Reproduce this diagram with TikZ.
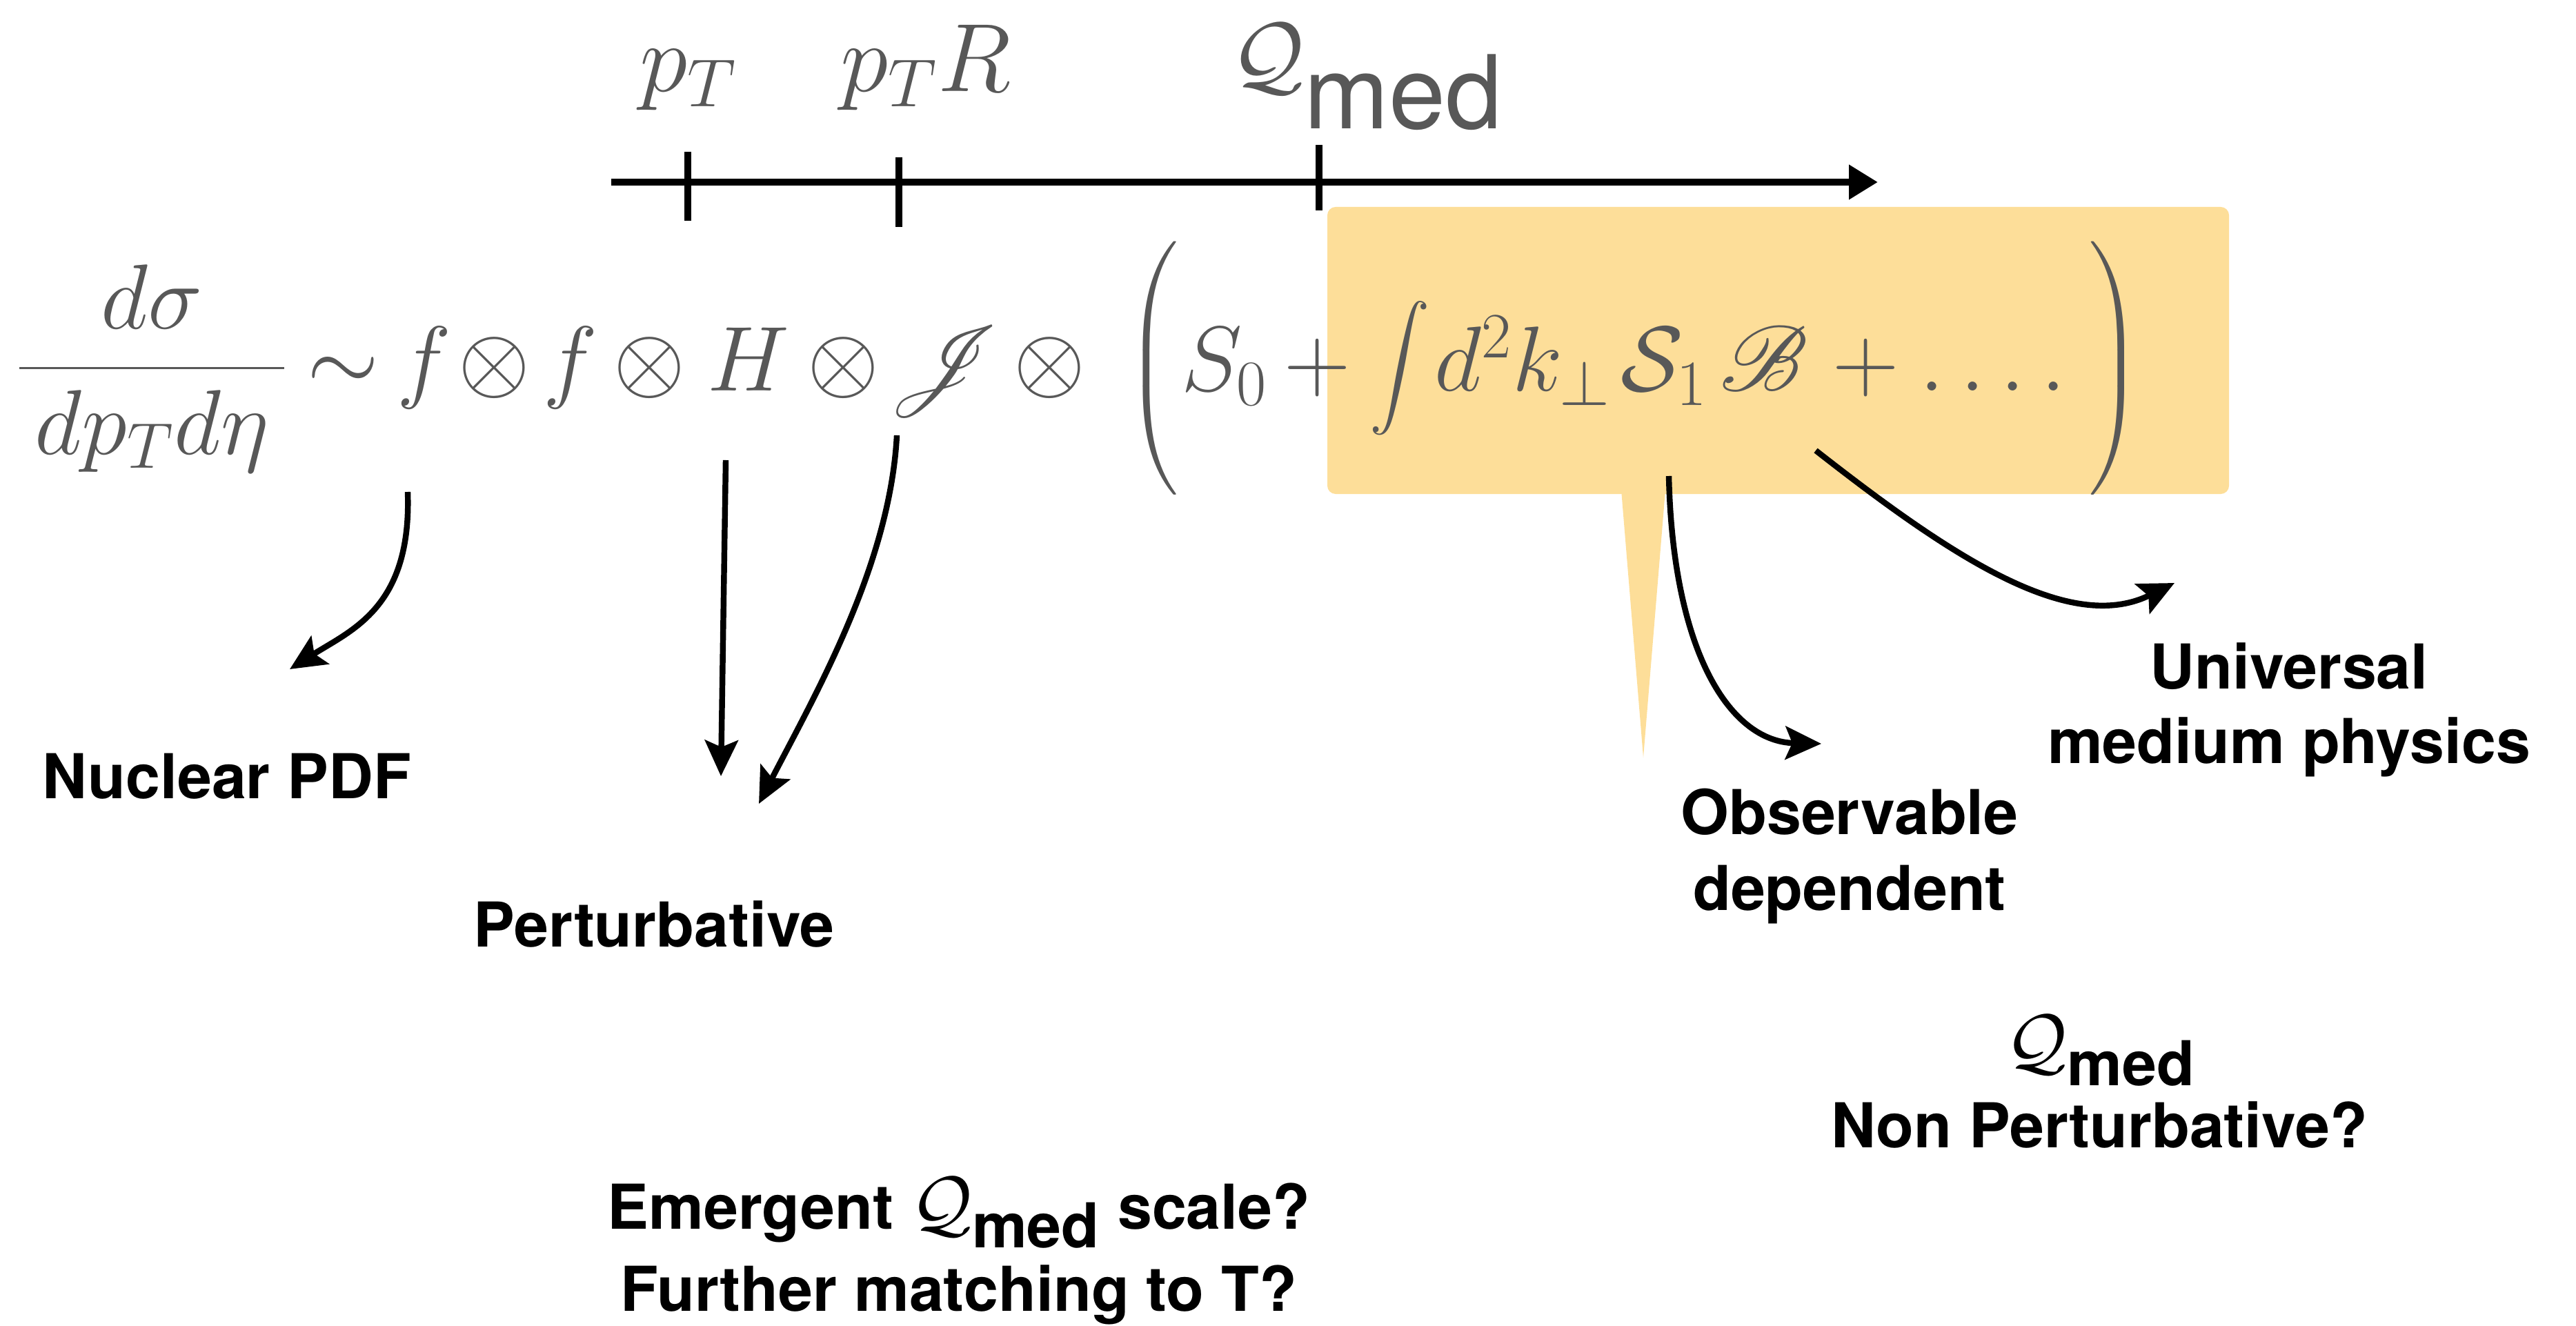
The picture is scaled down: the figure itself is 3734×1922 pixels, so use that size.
\documentclass[tikz,border=0pt]{standalone}
\usepackage{fix-cm}
\usepackage{amsmath}
\usepackage{mathrsfs}
\DeclareFontFamily{U}{rsfs}{\skewchar\font127}
\DeclareFontShape{U}{rsfs}{m}{n}{<-6>rsfs5<6-8>rsfs7<8->rsfs10}{}
\usepackage{fontspec}
\setsansfont{TeX Gyre Heros}
\usepackage{xcolor}
\usepackage{tikz}
\usetikzlibrary{arrows.meta,positioning}

\definecolor{eqgray}{RGB}{88,88,88}
\definecolor{medbox}{RGB}{253,222,153}

% Q_med with the "med" set at text size
\newcommand{\Qmedsym}[2]{{\fontsize{#1}{#1}\selectfont$\mathcal{Q}_{\mbox{\fontsize{#2}{#2}\selectfont med}}$}}

\begin{document}
\begin{tikzpicture}[x=0.01cm, y=-0.01cm,
  eq/.style={text=eqgray, inner sep=0pt, anchor=base,
    font=\fontsize{38}{40}\selectfont},
  scalelbl/.style={text=eqgray, inner sep=0pt, anchor=base,
    font=\fontsize{40}{42}\selectfont\sffamily},
  note/.style={inner sep=0pt, anchor=base,
    font=\fontsize{25.5}{27}\selectfont\sffamily\bfseries},
  axisline/.style={line width=3pt, -{Triangle[length=4.2mm,width=4.8mm]}},
  tickmark/.style={line width=2.8pt},
  flow/.style={line width=2.4pt, -{Stealth[length=5.2mm,width=4.8mm,inset=1mm]}}
]
\useasboundingbox (0,0) rectangle (3734,1922);

% highlighted medium part
\fill[medbox, rounded corners=3.4pt] (1924,300) rectangle (3231,716);
\fill[medbox] (2350,710) -- (2414,710) -- (2382,1098) -- cycle;

% scale axis
\coordinate (axisL) at (886,264);
\coordinate (axisR) at (2722,264);
\draw[axisline] (axisL) -- (axisR);
\draw[tickmark] (997,220) -- (997,320);
\draw[tickmark] (1303,228) -- (1303,329);
\draw[tickmark] (1912,210) -- (1912,305);

\node[scalelbl] (ptlbl) at (998,133) {$p_T$};
\node[scalelbl] (ptrlbl) at (1342,133) {$p_TR$};
\node[scalelbl] (qmedlbl) at (1982,124) {\Qmedsym{37}{42}};

% factorization formula
\node[eq] (frac) at (220,567) {$\displaystyle\frac{d\sigma}{\,dp_T d\eta\,}$};
\node[eq] (sim) at (497,567) {$\sim$};
\node[eq] (f1) at (615,567) {$f$};
\node[eq] (ot1) at (716,567) {$\otimes$};
\node[eq] (f2) at (827,567) {$f$};
\node[eq] (ot2) at (941,567) {$\otimes$};
\node[eq] (H) at (1085,567) {$H$};
\node[eq] (ot3) at (1222,567) {$\otimes$};
\node[eq] (J) at (1370,567) {$\mathscr{J}$};
\node[eq] (ot4) at (1521,567) {$\otimes$};
\node[eq] (lpar) at (1672,567) {$\left(\rule[-1.41cm]{0pt}{3.48cm}\right.$};
\node[eq] (S0) at (1775,567) {$S_0$};
\node[eq] (plus1) at (1910,567) {$+$};
\node[eq] (int) at (2029,567) {$\displaystyle\int$};
\node[eq] (dk) at (2207,567) {$d^2k_\perp$};
\node[eq] (S1) at (2412,567) {$\mathcal{S}_1$};
\node[eq] (B) at (2557,567) {$\mathscr{B}$};
\node[eq] (plus2) at (2705,567) {$+$};
\node[eq] (dots) at (2889,567) {$.\,.\,.\,.$};
\node[eq] (rpar) at (3065,567) {$\left.\rule[-1.41cm]{0pt}{3.48cm}\right)$};

% labels
\node[note] (nuc) at (329,1157) {Nuclear PDF};
\node[note] (pert) at (948,1372) {Perturbative};
\node[note] (emerg) at (1390,1781) {Emergent \Qmedsym{31}{25.5} scale?};
\node[note] (match) at (1390,1900) {Further matching to T?};
\node[note] (univ) at (3318,998) {Universal};
\node[note] (medphys) at (3318,1106) {medium physics};
\node[note] (obs) at (2681,1209) {Observable};
\node[note] (dep) at (2681,1319) {dependent};
\node[note] (qmednp) at (3045,1546) {\Qmedsym{31}{25.5}};
\node[note] (nonpert) at (3043,1663) {Non Perturbative?};

\coordinate (nucTip) at (420,970);
\coordinate (pertTipA) at (1045,1125);
\coordinate (pertTipB) at (1100,1165);
\coordinate (obsTip) at (2640,1078);
\coordinate (univTip) at (3152,845);

\draw[flow] ([shift={(-24,146)}]f1.base) .. controls (597,880) and (510,913) .. (nucTip);
\draw[flow] ([shift={(-33,100)}]H.base) -- (pertTipA);
\draw[flow] ([shift={(-70,64)}]J.base) .. controls (1290,820) and (1180,1010) .. (pertTipB);
\draw[flow] ([shift={(7,123)}]S1.base) .. controls (2425,950) and (2510,1075) .. (obsTip);
\draw[flow] ([shift={(75,86)}]B.base) .. controls (2830,808) and (3000,920) .. (univTip);
\end{tikzpicture}
\end{document}
